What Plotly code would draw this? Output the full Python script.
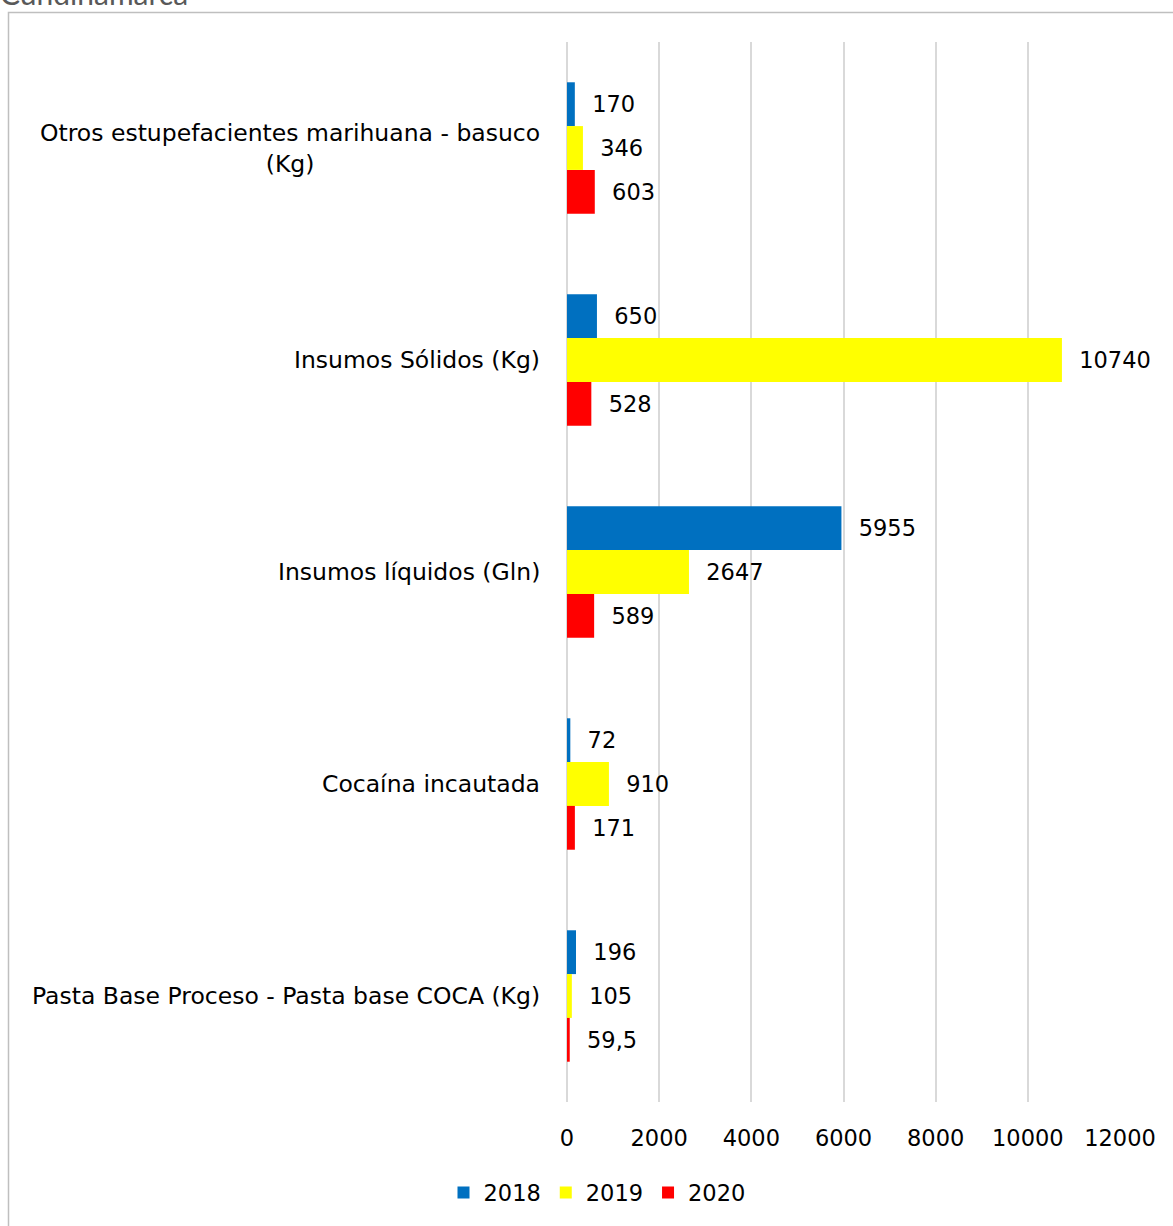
import plotly.graph_objects as go

# Categories, top to bottom
categories = [
    "Otros estupefacientes marihuana - basuco<br>(Kg)",
    "Insumos Sólidos (Kg)",
    "Insumos líquidos (Gln)",
    "Cocaína incautada",
    "Pasta Base Proceso - Pasta base COCA (Kg)",
]
years = ["2018", "2019", "2020"]
values_2018 = [170, 650, 5955, 72, 196]
values_2019 = [346, 10740, 2647, 910, 105]
values_2020 = [603, 528, 589, 171, 59.5]
x_ticks = [0, 2000, 4000, 6000, 8000, 10000, 12000]

colors = ["#0070C0", "#FFFF00", "#FF0000"]
series = [values_2018, values_2019, values_2020]

W, H = 1173, 1226
ML, MR, MT, MB = 567, 53, 42, 122
PW, PH = W - ML - MR, H - MT - MB

FONT = "DejaVu Sans"
NUM_SIZE = 22.5
LABEL_SIZE = 23.5


def px(xp):
    return (xp - ML) / PW


def py(yp):
    return (H - MB - yp) / PH


def fmt(v):
    s = f"{v:g}"
    return s.replace(".", ",")


fig = go.Figure()
for name, vals, col in zip(years, series, colors):
    fig.add_trace(go.Bar(
        name=name,
        y=categories,
        x=vals,
        orientation="h",
        marker=dict(color=col, line=dict(width=0)),
        text=["\u00a0\u00a0" + fmt(v) for v in vals],
        textposition="outside",
        textfont=dict(family=FONT, size=NUM_SIZE, color="#000000"),
        constraintext="none",
        cliponaxis=False,
    ))

# Category labels, right-aligned against the axis, centred lines
for cat in categories:
    fig.add_annotation(
        text=cat, xref="paper", yref="y", x=px(542), y=cat,
        xanchor="right", yanchor="middle", align="center",
        showarrow=False,
        font=dict(family=FONT, size=LABEL_SIZE, color="#000000"),
    )

# Partially visible heading and outer frame
fig.add_annotation(
    text="Cundinamarca", xref="paper", yref="paper",
    x=px(-2), y=py(13), xanchor="left", yanchor="bottom",
    showarrow=False,
    font=dict(family="Lato", size=30, color="#595959"),
)
fig.add_shape(
    type="rect", xref="paper", yref="paper",
    x0=px(8.5), x1=px(1190), y0=py(1250), y1=py(12.5),
    line=dict(color="#BFBFBF", width=1.5), fillcolor="rgba(0,0,0,0)",
    layer="below",
)

fig.update_layout(
    width=W, height=H,
    margin=dict(l=ML, r=MR, t=MT, b=MB, pad=0),
    paper_bgcolor="white", plot_bgcolor="white",
    barmode="group", bargap=0.38, bargroupgap=0,
    font=dict(family=FONT, size=NUM_SIZE, color="#000000"),
    showlegend=True,
    legend=dict(
        orientation="h", x=px(597), y=py(1195), xanchor="center", yanchor="middle",
        font=dict(family=FONT, size=NUM_SIZE, color="#000000"),
        itemwidth=30, itemsizing="constant", tracegroupgap=0,
        traceorder="normal",
    ),
    xaxis=dict(
        range=[0, 12000], tickvals=x_ticks,
        ticktext=[str(t) for t in x_ticks],
        showgrid=True, gridcolor="#D9D9D9", gridwidth=2,
        zeroline=True, zerolinecolor="#D9D9D9", zerolinewidth=2,
        showline=False, ticks="",
        ticklabelstandoff=20,
        tickfont=dict(family=FONT, size=NUM_SIZE, color="#000000"),
    ),
    yaxis=dict(
        categoryorder="array", categoryarray=categories,
        autorange="reversed", showticklabels=False, ticks="",
        showgrid=False, zeroline=False, showline=False,
    ),
)

fig.write_html("out.html")
